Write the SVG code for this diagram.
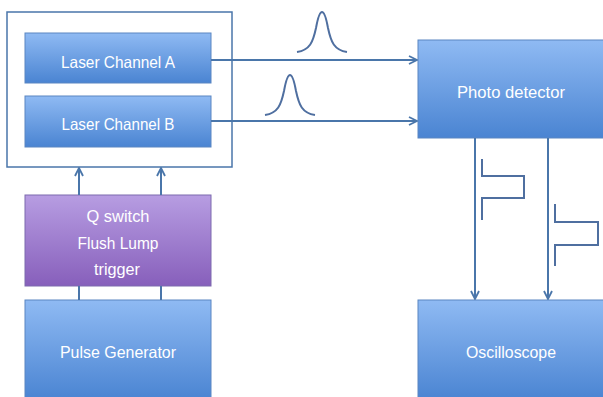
<svg xmlns="http://www.w3.org/2000/svg" width="603" height="397" viewBox="0 0 603 397">
<defs>
<linearGradient id="gBlue" x1="0" y1="0" x2="0" y2="1">
<stop offset="0" stop-color="#8fbaf3"/>
<stop offset="1" stop-color="#4a84d2"/>
</linearGradient>
<linearGradient id="gPurple" x1="0" y1="0" x2="0" y2="1">
<stop offset="0" stop-color="#b79de2"/>
<stop offset="1" stop-color="#875fbb"/>
</linearGradient>
<marker id="arr" viewBox="0 0 10 10" refX="9" refY="5" markerWidth="10" markerHeight="10" markerUnits="userSpaceOnUse" orient="auto">
<path d="M1,1 L9,5 L1,9" fill="none" stroke="#4a76aa" stroke-width="1.8"/>
</marker>
<style>
.box{stroke:#5a86c2;stroke-width:1}
.blue{fill:url(#gBlue)}
.purple{fill:url(#gPurple);stroke:#7d6aae}
.lbl{font-family:"Liberation Sans",Arial,sans-serif;font-size:16.5px;fill:#ffffff;text-anchor:middle}
.ln{fill:none;stroke:#4a76aa;stroke-width:2}
.pulse{fill:none;stroke:#4f6fa0;stroke-width:2}
</style>
</defs>
<rect width="603" height="397" fill="#ffffff"/>
<g id="frame"><rect x="7" y="12" width="225" height="155" fill="none" stroke="#4a76aa" stroke-width="1.5"/></g>
<g id="laserA"><rect class="box blue" x="25" y="33" width="186" height="50"/><text class="lbl" x="118" y="68" textLength="114" lengthAdjust="spacingAndGlyphs">Laser Channel A</text></g>
<g id="laserB"><rect class="box blue" x="25" y="96" width="186" height="51"/><text class="lbl" x="118" y="130" textLength="113" lengthAdjust="spacingAndGlyphs">Laser Channel B</text></g>
<g id="qswitch"><rect class="box purple" x="25" y="195" width="186" height="91"/><text class="lbl" x="118" y="222" textLength="63" lengthAdjust="spacingAndGlyphs">Q switch</text><text class="lbl" x="118" y="249" textLength="81" lengthAdjust="spacingAndGlyphs">Flush Lump</text><text class="lbl" x="117" y="275" textLength="46" lengthAdjust="spacingAndGlyphs">trigger</text></g>
<g id="pulsegen"><rect class="box blue" x="25" y="300" width="186" height="100"/><text class="lbl" x="118" y="358" textLength="116" lengthAdjust="spacingAndGlyphs">Pulse Generator</text></g>
<g id="photodetector"><rect class="box blue" x="418" y="40" width="190" height="98"/><text class="lbl" x="511" y="98" textLength="108" lengthAdjust="spacingAndGlyphs">Photo detector</text></g>
<g id="oscilloscope"><rect class="box blue" x="418" y="300" width="190" height="100"/><text class="lbl" x="511" y="358" textLength="90" lengthAdjust="spacingAndGlyphs">Oscilloscope</text></g>
<g id="connectors">
<line class="ln" x1="79" y1="195" x2="79" y2="168" marker-end="url(#arr)"/>
<line class="ln" x1="161" y1="195" x2="161" y2="168" marker-end="url(#arr)"/>
<line class="ln" x1="79" y1="286" x2="79" y2="300"/>
<line class="ln" x1="161" y1="286" x2="161" y2="300"/>
<line class="ln" x1="211" y1="60" x2="417" y2="60" marker-end="url(#arr)"/>
<line class="ln" x1="211" y1="121" x2="417" y2="121" marker-end="url(#arr)"/>
<line class="ln" x1="475" y1="138" x2="475" y2="299" marker-end="url(#arr)"/>
<line class="ln" x1="548" y1="138" x2="548" y2="299" marker-end="url(#arr)"/>
</g>
<g id="waveforms">
<path class="pulse" d="M297,52 C310,50 313,42 316,28 C318,17 320,12 322,12 C324,12 326,17 328,28 C331,42 334,50 347,52"/>
<path class="pulse" d="M265,115 C278,113 281,105 284,91 C286,80 288,75 290,75 C292,75 294,80 296,91 C299,105 302,113 315,115"/>
<path class="pulse" d="M482,159 V176 H524 V198 H482 V220"/>
<path class="pulse" d="M555,204 V222 H598 V245 H555 V266"/>
</g>
</svg>
